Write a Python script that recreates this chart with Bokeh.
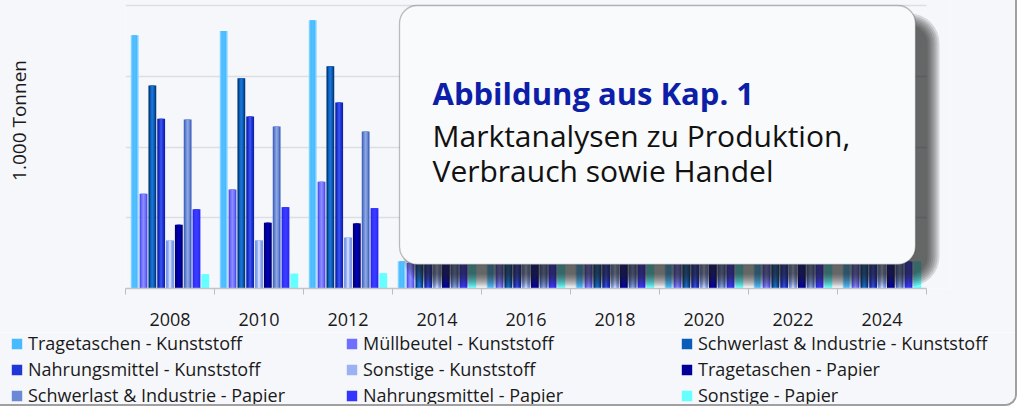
import math
from bokeh.plotting import figure
from bokeh.models import (ColumnDataSource, Range1d, FixedTicker, Legend, LegendItem,
                          BoxAnnotation, Label, Grid)
from bokeh.transform import dodge
from bokeh.embed import file_html
from bokeh.resources import INLINE

# ---------------- data ----------------
years = ["2008", "2010", "2012", "2014", "2016", "2018", "2020", "2022", "2024"]

tragetaschen_k = [1790, 1820, 1895, 193, 190, 190, 190, 190, 190]
muellbeutel_k = [670, 700, 755, 180, 190, 190, 190, 190, 190]
schwerlast_k = [1435, 1485, 1570, 190, 190, 190, 190, 190, 190]
nahrungsmittel_k = [1200, 1215, 1315, 190, 190, 190, 190, 190, 190]
sonstige_k = [340, 340, 360, 190, 190, 190, 190, 190, 190]
tragetaschen_p = [450, 465, 460, 190, 190, 190, 190, 190, 190]
schwerlast_p = [1195, 1145, 1110, 190, 190, 190, 190, 190, 190]
nahrungsmittel_p = [560, 575, 568, 190, 190, 190, 190, 190, 190]
sonstige_p = [100, 104, 108, 190, 190, 190, 190, 190, 190]

series_names = [
    "Tragetaschen - Kunststoff", "Müllbeutel - Kunststoff",
    "Schwerlast & Industrie - Kunststoff", "Nahrungsmittel - Kunststoff",
    "Sonstige - Kunststoff", "Tragetaschen - Papier",
    "Schwerlast & Industrie - Papier", "Nahrungsmittel - Papier",
    "Sonstige - Papier",
]
series_values = [tragetaschen_k, muellbeutel_k, schwerlast_k, nahrungsmittel_k,
                 sonstige_k, tragetaschen_p, schwerlast_p, nahrungsmittel_p, sonstige_p]
# (edge, mid, centre) colours to imitate the gradient fill
series_colors = [
    ("#7fd2ff", "#48baff", "#52c0ff"),
    ("#5252ec", "#6e6eff", "#8c8cff"),
    ("#043a78", "#0b5cb8", "#1a74d6"),
    ("#1022ae", "#2136d6", "#3651ec"),
    ("#7090e6", "#9ab2f4", "#c8d6ff"),
    ("#00006e", "#000098", "#0000b8"),
    ("#4568bf", "#6a88d4", "#8ca6e2"),
    ("#2a2af2", "#3434ff", "#3c3cff"),
    ("#66ffff", "#66ffff", "#66ffff"),
]
y_label = "1.000 Tonnen"
box_title = "Abbildung aus Kap. 1"
box_lines = ["Marktanalysen zu Produktion,", "Verbrauch sowie Handel"]

# ---------------- geometry (page pixels) ----------------
OX, OY = -10, -48          # origin of the main canvas on page
W = 1027                   # canvas width
FL, FAX, FR, FT, FB = 125, 926, 950, -48, 288   # frame on page (FAX = end of axis)
MAIN_BOTTOM = 332
PAGE_BOTTOM = 406
H1 = MAIN_BOTTOM - OY
H2 = PAGE_BOTTOM - MAIN_BOTTOM
GRID_PX = 70.75            # px per 500 units
N = len(years)
XPU = (FAX - FL) / N       # px per x unit
Y_END = (FB - FT) * 500 / GRID_PX


def px(xp):
    return (xp - FL) / XPU


def py(yp):
    return (FB - yp) * 500 / GRID_PX


FONT = "Open Sans"
BG = "#f6f7fb"

p = figure(width=W, height=H1, output_backend="svg", toolbar_location=None,
           x_range=Range1d(0, px(FR)), y_range=Range1d(0, Y_END),
           min_border_left=FL - OX, min_border_right=W + OX - FR,
           min_border_top=FT - OY, min_border_bottom=MAIN_BOTTOM - FB)
p.background_fill_color = BG
p.border_fill_color = BG
p.outline_line_color = None

# y axis only carries the title
p.yaxis.ticker = FixedTicker(ticks=[])
p.yaxis.axis_line_color = None
p.yaxis.major_tick_line_color = None
p.yaxis.minor_tick_line_color = None
p.yaxis.axis_label = y_label
p.yaxis.axis_label_text_font = FONT
p.yaxis.axis_label_text_font_size = "19px"
p.yaxis.axis_label_text_font_style = "normal"
p.yaxis.axis_label_text_color = "#1a1a1a"
p.yaxis.axis_label_standoff = 94

p.xgrid.visible = False
p.ygrid.ticker = FixedTicker(ticks=[500, 1000, 1500, 2000])
p.ygrid.grid_line_color = "#dddee4"
p.ygrid.grid_line_width = 1.3
if "cross_bounds" in Grid.properties():
    p.ygrid.cross_bounds = (0, N)

centers = [i + 0.5 for i in range(N)]
bounds = list(range(N + 1))
p.xaxis.bounds = (0, N)
p.xaxis.ticker = FixedTicker(ticks=centers, minor_ticks=bounds)
p.xaxis.major_label_overrides = {c: y for c, y in zip(centers, years)}
p.xaxis.major_tick_line_color = None
p.xaxis.major_tick_out = 0
p.xaxis.minor_tick_line_color = "#bdbdbd"
p.xaxis.minor_tick_out = 6
p.xaxis.minor_tick_in = 0
p.xaxis.axis_line_color = "#c4c4c4"
p.xaxis.axis_line_width = 1.3
p.xaxis.major_label_text_font = FONT
p.xaxis.major_label_text_font_size = "18px"
p.xaxis.major_label_text_color = "#1a1a1a"
p.xaxis.major_label_standoff = 18

data = {"x": centers}
for k, vals in enumerate(series_values):
    data[f"s{k}"] = vals
src = ColumnDataSource(data)

STEP = 0.0992
BW = 0.088
for k, (edge, mid, ctr) in enumerate(series_colors):
    off = (k - 4) * STEP
    xs = dodge("x", off, range=p.x_range)
    p.vbar(x=xs, top=f"s{k}", width=BW, source=src, fill_color=edge, line_color=None)
    p.vbar(x=xs, top=f"s{k}", width=BW * 0.62, source=src, fill_color=mid, line_color=None)
    p.vbar(x=xs, top=f"s{k}", width=BW * 0.26, source=src, fill_color=ctr, line_color=None)

# ---------------- overlay box with shadow ----------------
BL, BR, BT, BBt = 399, 915, 5, 264
for i in range(7):
    e = i * 2
    p.add_layout(BoxAnnotation(left=px(BL + 16 - e), right=px(BR + 12 + e),
                               top=py(BT + 20 - e), bottom=py(BBt + 10 + e),
                               fill_color="#202020", fill_alpha=0.15, line_color=None,
                               border_radius=18 + e))
p.add_layout(BoxAnnotation(left=px(BL), right=px(BR), top=py(BT), bottom=py(BBt),
                           fill_color="#f9fafb", fill_alpha=1.0, line_color="#2a2a2a",
                           line_width=1.3, border_radius=18))
p.add_layout(Label(x=px(432), y=py(92), text=box_title, text_font=FONT,
                   text_font_style="bold", text_font_size="31px", text_color="#0d1ea8",
                   text_baseline="alphabetic"))
for j, line in enumerate(box_lines):
    p.add_layout(Label(x=px(432), y=py(135 + 35 * j), text=line, text_font=FONT,
                       text_font_size="30px", text_color="#111111",
                       text_baseline="alphabetic"))

p.styles = {"position": "absolute", "left": f"{OX}px", "top": f"{OY}px",
            "border-right": "2px solid #a0a0a0"}

# ---------------- legend figure (3 columns) ----------------
pl = figure(width=W, height=H2, output_backend="svg", toolbar_location=None,
            x_range=Range1d(0, W), y_range=Range1d(10000, 10000 + H2),
            min_border_left=0, min_border_right=0, min_border_top=0, min_border_bottom=0)
pl.axis.visible = False
pl.grid.visible = False
pl.outline_line_color = None
pl.background_fill_color = BG
pl.border_fill_color = BG

# legend proxies: same data, lying below the visible y range of this strip
leg_renderers = [pl.vbar(x="x", top=f"s{k}", width=0.1, source=src,
                         fill_color=c[1], line_color=None)
                 for k, c in enumerate(series_colors)]

cols = [[0, 3, 6], [1, 4, 7], [2, 5, 8]]
col_x = [10, 345, 680]
ROW = 26
for cx, idxs in zip(col_x, cols):
    items = [LegendItem(label=series_names[i], renderers=[leg_renderers[i]]) for i in idxs]
    vy = (PAGE_BOTTOM - 369) - 1.5 * ROW   # middle row centred at page y 369
    leg = Legend(items=items, location=(cx - OX, vy), padding=0, margin=0,
                 border_line_color=None, background_fill_alpha=0,
                 glyph_width=13, glyph_height=13, label_standoff=5,
                 label_text_font=FONT, label_text_font_size="18px",
                 label_text_color="#1a1a1a", label_height=ROW, spacing=0)
    pl.add_layout(leg)

pl.styles = {"position": "absolute", "left": f"{OX}px", "top": f"{MAIN_BOTTOM}px",
             "border-right": "2px solid #a0a0a0", "border-bottom": "2px solid #a0a0a0",
             "border-bottom-right-radius": "12px", "overflow": "hidden"}

open("out.html", "w").write(file_html([p, pl], INLINE))
